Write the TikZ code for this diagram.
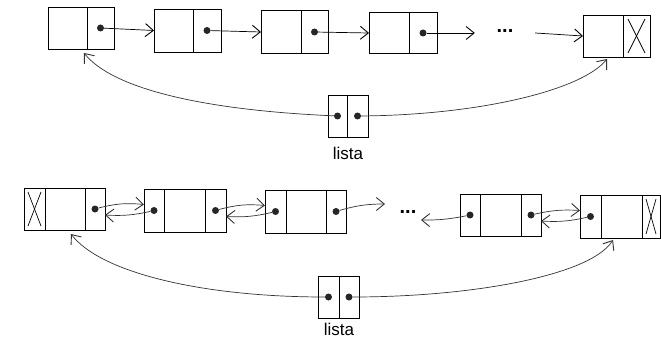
\documentclass[tikz,border=0pt]{standalone}
\usepackage{fontspec}
\setmainfont{Liberation Sans}
\usetikzlibrary{arrows.meta}
\begin{document}
\begin{tikzpicture}[x=1pt,y=-1pt,
  cell/.style={draw, line width=0.9pt, inner sep=0pt, outer sep=0pt, anchor=center},
  dotn/.style={circle, fill=black!85, inner sep=0pt, minimum size=7pt},
  arr/.style={line width=0.7pt, -{Straight Barb[length=8pt,width=13pt,line width=0.9pt]}},
  link/.style={line width=0.6pt, black!80},
  xmark/.style={line width=0.7pt},
  lbl/.style={font=\fontsize{17}{20}\selectfont, inner sep=0pt},
  ell/.style={font=\fontsize{20}{22}\selectfont\bfseries, inner sep=0pt}]
\useasboundingbox (0,0) rectangle (661,342);

% ---------- top list (singly linked) ----------
\node[cell, minimum width=39pt, minimum height=42pt] (t1d) at (67.5,28) {};
\node[cell, minimum width=27pt, minimum height=42pt] (t1n) at (100.5,28) {};
\node[cell, minimum width=39pt, minimum height=43pt] (t2d) at (173.5,30.5) {};
\node[cell, minimum width=28pt, minimum height=43pt] (t2n) at (207,30.5) {};
\node[cell, minimum width=40pt, minimum height=43pt] (t3d) at (281,32) {};
\node[cell, minimum width=27pt, minimum height=43pt] (t3n) at (314.5,32) {};
\node[cell, minimum width=40pt, minimum height=41pt] (t4d) at (389,33) {};
\node[cell, minimum width=28pt, minimum height=41pt] (t4n) at (423,33) {};
\node[cell, minimum width=40pt, minimum height=42pt] (t5d) at (603,36) {};
\node[cell, minimum width=27pt, minimum height=42pt] (t5n) at (636.5,36) {};
\draw[xmark] ([xshift=5pt,yshift=-4pt]t5n.north west) -- ([xshift=-5pt,yshift=4pt]t5n.south east);
\draw[xmark] ([xshift=-5pt,yshift=-4pt]t5n.north east) -- ([xshift=5pt,yshift=4pt]t5n.south west);

\node[dotn] (t1p) at (t1n.center) {};
\node[dotn] (t2p) at (t2n.center) {};
\node[dotn] (t3p) at (t3n.center) {};
\node[dotn] (t4p) at (t4n.center) {};
\node[ell, minimum width=60pt] (tdots) at (505,31) {...};

\draw[arr] (t1p) -- (t2d.west);
\draw[arr] (t2p) -- (t3d.west);
\draw[arr] (t3p) -- (t4d.west);
\draw[arr] (t4p) -- ([yshift=-2pt]tdots.west);
\draw[arr] ([yshift=-2pt]tdots.east) -- (t5d.west);

% top "lista" header
\node[cell, minimum width=19pt, minimum height=42pt] (l1a) at (337.5,116) {};
\node[cell, minimum width=21pt, minimum height=42pt] (l1b) at (357.5,116) {};
\node[dotn] (l1ap) at (l1a.center) {};
\node[dotn] (l1bp) at (l1b.center) {};
\node[lbl] (l1txt) at (348,153) {lista};
\coordinate (t1in) at (84,53);
\coordinate (t5in) at (607,59);
\draw[link, arr] (l1ap) .. controls (200,110) and (112,88) .. (t1in);
\draw[link, arr] (l1bp) .. controls (480,115) and (582,90) .. (t5in);

% ---------- bottom list (doubly linked) ----------
\node[cell, minimum width=21pt, minimum height=42pt] (b1x) at (34.5,209) {};
\node[cell, minimum width=40pt, minimum height=42pt] (b1d) at (65,209) {};
\node[cell, minimum width=20pt, minimum height=42pt] (b1n) at (95,209) {};
\draw[xmark] ([xshift=4pt,yshift=-4pt]b1x.north west) -- ([xshift=-4pt,yshift=4pt]b1x.south east);
\draw[xmark] ([xshift=-4pt,yshift=-4pt]b1x.north east) -- ([xshift=4pt,yshift=4pt]b1x.south west);

\node[cell, minimum width=20pt, minimum height=43pt] (b2p) at (154,210.5) {};
\node[cell, minimum width=41pt, minimum height=43pt] (b2d) at (184.5,210.5) {};
\node[cell, minimum width=21pt, minimum height=43pt] (b2n) at (215.5,210.5) {};

\node[cell, minimum width=21pt, minimum height=43pt] (b3p) at (275.5,211.5) {};
\node[cell, minimum width=40pt, minimum height=43pt] (b3d) at (306,211.5) {};
\node[cell, minimum width=20pt, minimum height=43pt] (b3n) at (336,211.5) {};

\node[cell, minimum width=20pt, minimum height=42pt] (b4p) at (470,215) {};
\node[cell, minimum width=41pt, minimum height=42pt] (b4d) at (500.5,215) {};
\node[cell, minimum width=20pt, minimum height=42pt] (b4n) at (531,215) {};

\node[cell, minimum width=21pt, minimum height=43pt] (b5p) at (590.5,216.5) {};
\node[cell, minimum width=41pt, minimum height=43pt] (b5d) at (621.5,216.5) {};
\node[cell, minimum width=18pt, minimum height=43pt] (b5x) at (651,216.5) {};
\draw[xmark] ([xshift=4pt,yshift=-4pt]b5x.north west) -- ([xshift=-4pt,yshift=4pt]b5x.south east);
\draw[xmark] ([xshift=-4pt,yshift=-4pt]b5x.north east) -- ([xshift=4pt,yshift=4pt]b5x.south west);

\node[dotn] (b1q) at (b1n.center) {};
\node[dotn] (b2l) at (b2p.center) {};
\node[dotn] (b2r) at (b2n.center) {};
\node[dotn] (b3l) at (b3p.center) {};
\node[dotn] (b3r) at (b3n.center) {};
\node[dotn] (b4l) at (b4p.center) {};
\node[dotn] (b4r) at (b4n.center) {};
\node[dotn] (b5l) at (b5p.center) {};
\node[ell] (bdots) at (408,212) {...};
\coordinate (b3out) at (385,204);
\coordinate (b4out) at (421,220);

\draw[link, arr] (b1q) to[bend left=10] ([yshift=6pt]b2p.west);
\draw[link, arr] (b2l) to[bend left=8] ([yshift=-6pt]b1n.east);
\draw[link, arr] (b2r) to[bend left=10] ([yshift=6pt]b3p.west);
\draw[link, arr] (b3l) to[bend left=8] ([yshift=-6pt]b2n.east);
\draw[link, arr] (b3r) to[bend left=8] (b3out);
\draw[link, arr] (b4l) to[bend left=6] (b4out);
\draw[link, arr] (b4r) to[bend left=8] ([yshift=6pt]b5p.west);
\draw[link, arr] (b5l) to[bend left=8] ([yshift=-6pt]b4n.east);

% bottom "lista" header
\node[cell, minimum width=21pt, minimum height=42pt] (l2a) at (328.5,297) {};
\node[cell, minimum width=20pt, minimum height=42pt] (l2b) at (349,297) {};
\node[dotn] (l2ap) at (l2a.center) {};
\node[dotn] (l2bp) at (l2b.center) {};
\node[lbl] (l2txt) at (339,329) {lista};
\coordinate (b1in) at (71,234);
\coordinate (b5in) at (613,240);
\draw[link, arr] (l2ap) .. controls (200,297) and (100,272) .. (b1in);
\draw[link, arr] (l2bp) .. controls (470,297) and (590,276) .. (b5in);
\end{tikzpicture}
\end{document}
